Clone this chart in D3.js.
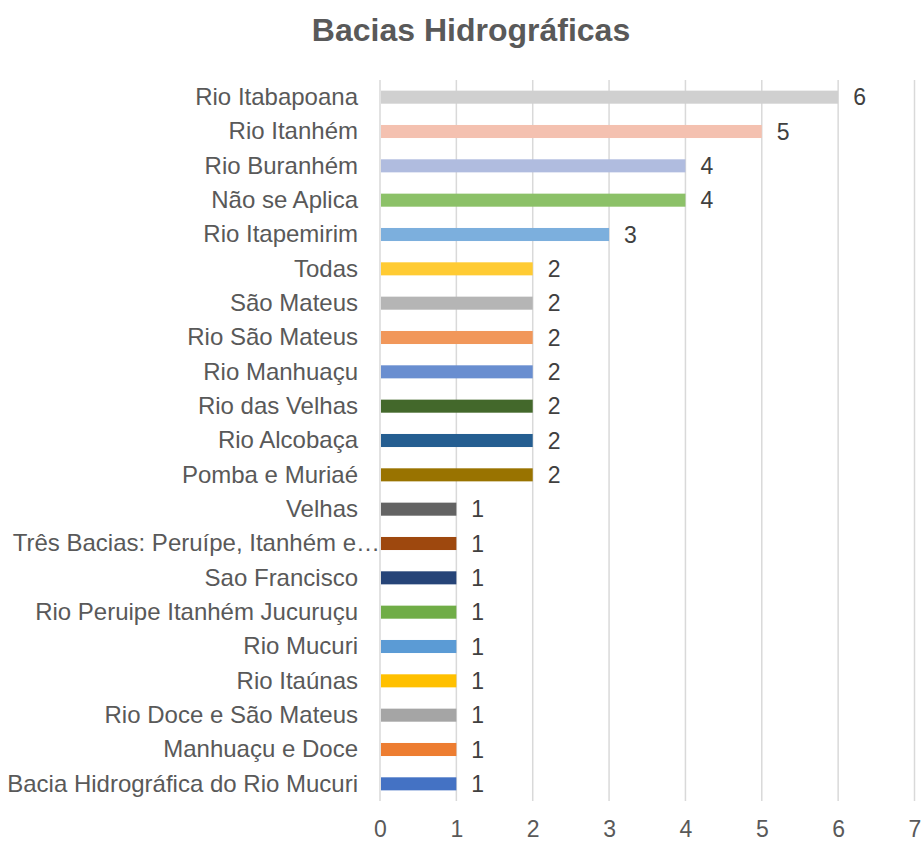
<!DOCTYPE html>
<html lang="pt">
<head>
  <meta charset="UTF-8">
  <title>Bacias Hidrográficas</title>
  <script src="https://cdn.jsdelivr.net/npm/d3@7"></script>
  <style>
    body { margin: 0; background: #fff; }
    text { font-family: "Liberation Sans", Arial, sans-serif; }
    .grid line { stroke: #d9d9d9; stroke-width: 1.5px; }
  </style>
</head>
<body>
<svg width="923" height="841"></svg>
<script>
// categories, top to bottom
var categories = [
  "Rio Itabapoana", "Rio Itanhém", "Rio Buranhém", "Não se Aplica",
  "Rio Itapemirim", "Todas", "São Mateus", "Rio São Mateus",
  "Rio Manhuaçu", "Rio das Velhas", "Rio Alcobaça", "Pomba e Muriaé",
  "Velhas", "Três Bacias: Peruípe, Itanhém e…", "Sao Francisco",
  "Rio Peruipe Itanhém Jucuruçu", "Rio Mucuri", "Rio Itaúnas",
  "Rio Doce e São Mateus", "Manhuaçu e Doce", "Bacia Hidrográfica do Rio Mucuri"
];
var values = [6, 5, 4, 4, 3, 2, 2, 2, 2, 2, 2, 2, 1, 1, 1, 1, 1, 1, 1, 1, 1];
var colors = [
  "#d0d0d0", "#f4c1b0", "#b0bcdf", "#8cc168", "#7cafdd", "#ffcb33",
  "#b5b5b5", "#f1975a", "#698ed0", "#43682b", "#255e91", "#997300",
  "#636363", "#9e480e", "#264478", "#70ad47", "#5b9bd5", "#ffc000",
  "#a5a5a5", "#ed7d31", "#4472c4"
];
var xTicks = [0, 1, 2, 3, 4, 5, 6, 7];

var svg = d3.select("svg");

var x = d3.scaleLinear().domain([0, 7]).range([380, 914.5]);
var y = d3.scaleBand().domain(categories).range([80, 801]).paddingInner(0.62).paddingOuter(0.31);

// title
svg.append("text")
    .attr("x", 471).attr("y", 41)
    .attr("text-anchor", "middle")
    .attr("font-size", 32).attr("font-weight", "bold")
    .attr("fill", "#595959")
    .text("Bacias Hidrográficas");

// vertical gridlines
svg.append("g").attr("class", "grid")
  .selectAll("line")
  .data(xTicks)
  .enter().append("line")
    .attr("x1", d => x(d)).attr("x2", d => x(d))
    .attr("y1", 80).attr("y2", 801);

// x axis labels
var xAxis = svg.append("g")
    .attr("transform", "translate(0,801)")
    .call(d3.axisBottom(x).tickValues(xTicks).tickFormat(d3.format("d")).tickSize(0).tickPadding(20));
xAxis.select(".domain").remove();
xAxis.selectAll("text")
    .attr("font-size", 23)
    .attr("fill", "#595959")
    .style("font-family", "'Liberation Sans', Arial, sans-serif");

// y axis labels
var yAxis = svg.append("g")
    .attr("transform", "translate(380,0)")
    .call(d3.axisLeft(y).tickSize(0).tickPadding(22));
yAxis.select(".domain").remove();
yAxis.selectAll("text")
    .attr("font-size", 24)
    .attr("fill", "#595959")
    .style("font-family", "'Liberation Sans', Arial, sans-serif");
// the truncated label runs up to the bar, as in the original
yAxis.selectAll("text")
    .filter(d => d.endsWith("…"))
    .attr("x", 0);

// bars
svg.append("g")
  .selectAll("rect")
  .data(categories)
  .enter().append("rect")
    .attr("x", x(0) + 1)
    .attr("y", d => y(d))
    .attr("width", (d, i) => x(values[i]) - x(0) - 1)
    .attr("height", y.bandwidth())
    .attr("fill", (d, i) => colors[i]);

// value labels
svg.append("g")
  .selectAll("text")
  .data(categories)
  .enter().append("text")
    .attr("x", (d, i) => x(values[i]) + 15)
    .attr("y", d => y(d) + y.bandwidth() / 2)
    .attr("dy", "0.36em")
    .attr("font-size", 23)
    .attr("fill", "#404040")
    .text((d, i) => values[i]);
</script>
</body>
</html>
